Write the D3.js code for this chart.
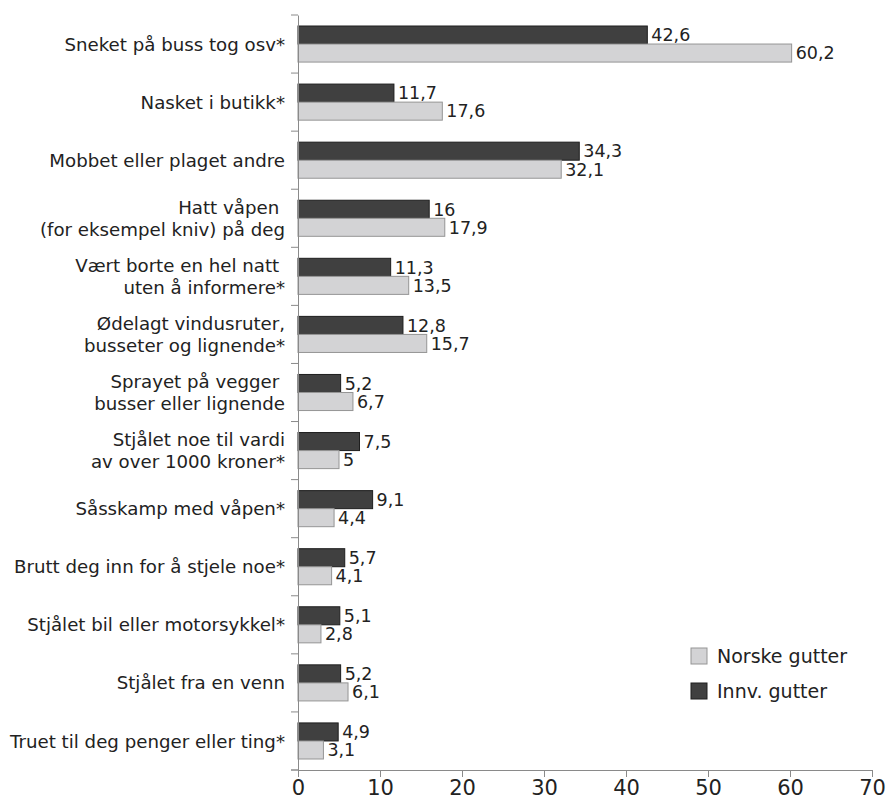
<!DOCTYPE html>
<html>
<head>
<meta charset="utf-8">
<script src="https://cdn.jsdelivr.net/npm/d3@7"></script>
<style>
  body { margin: 0; background: #fff; }
  text { font-family: "DejaVu Sans", sans-serif; fill: #222; }
</style>
</head>
<body>
<div id="chart"></div>
<script>
// DATA
var categories = [
  ["Sneket på buss tog osv*"],
  ["Nasket i butikk*"],
  ["Mobbet eller plaget andre"],
  ["Hatt våpen ", "(for eksempel kniv) på deg"],
  ["Vært borte en hel natt ", "uten å informere*"],
  ["Ødelagt vindusruter,", "busseter og lignende*"],
  ["Sprayet på vegger ", "busser eller lignende"],
  ["Stjålet noe til vardi", "av over 1000 kroner*"],
  ["Såsskamp med våpen*"],
  ["Brutt deg inn for å stjele noe*"],
  ["Stjålet bil eller motorsykkel*"],
  ["Stjålet fra en venn"],
  ["Truet til deg penger eller ting*"]
];
var innvGutter = [42.6, 11.7, 34.3, 16, 11.3, 12.8, 5.2, 7.5, 9.1, 5.7, 5.1, 5.2, 4.9];
var norskeGutter = [60.2, 17.6, 32.1, 17.9, 13.5, 15.7, 6.7, 5, 4.4, 4.1, 2.8, 6.1, 3.1];
var xTicks = [0, 10, 20, 30, 40, 50, 60, 70];
var seriesNames = ["Norske gutter", "Innv. gutter"];

// SET UP CHART
var svgWidth = 890, svgHeight = 803;
var margin = { top: 15, right: 18, bottom: 33, left: 298 };
var chartWidth = svgWidth - margin.left - margin.right;
var chartHeight = svgHeight - margin.top - margin.bottom;

var svg = d3.select("#chart").append("svg")
  .attr("width", svgWidth)
  .attr("height", svgHeight);

var chartGroup = svg.append("g")
  .attr("transform", `translate(${margin.left}, ${margin.top})`);

var xScale = d3.scaleLinear().domain([0, 70]).range([0, 574]);
var yScale = d3.scaleBand()
  .domain(d3.range(categories.length))
  .range([0, chartHeight]);
var inner = d3.scaleBand()
  .domain(["innv", "norske"])
  .range([11, yScale.bandwidth() - 11]);

var fmt = d => String(d).replace(".", ",");

// bars - dark on top, light below
var rows = categories.map((c, i) => ({ i: i, innv: innvGutter[i], norske: norskeGutter[i] }));

var styles = {
  innv: { fill: "#404040", stroke: "#1e1e1e" },
  norske: { fill: "#d3d3d5", stroke: "#959595" }
};

["innv", "norske"].forEach(function(key) {
  chartGroup.selectAll("rect." + key)
    .data(rows)
    .enter()
    .append("rect")
    .attr("class", key)
    .attr("x", 0)
    .attr("y", d => yScale(d.i) + inner(key))
    .attr("width", d => xScale(d[key]))
    .attr("height", inner.bandwidth())
    .attr("fill", styles[key].fill)
    .attr("stroke", styles[key].stroke)
    .attr("stroke-width", 1);

  chartGroup.selectAll("text.v" + key)
    .data(rows)
    .enter()
    .append("text")
    .attr("class", "v" + key)
    .attr("x", d => xScale(d[key]) + 4)
    .attr("y", d => yScale(d.i) + inner(key) + inner.bandwidth() / 2)
    .attr("dy", "0.36em")
    .attr("font-size", 17.5)
    .text(d => fmt(d[key]));
});

// Y AXIS
var leftAxis = d3.axisLeft(yScale).tickValues([]).tickSizeOuter(0);
var yAxis = chartGroup.append("g").call(leftAxis);
yAxis.select(".domain").attr("stroke", "#8a8a8a");
// category separator ticks
chartGroup.selectAll("line.sep")
  .data(d3.range(categories.length + 1))
  .enter()
  .append("line")
  .attr("x1", -7).attr("x2", 0)
  .attr("y1", d => d === categories.length ? chartHeight : yScale(d))
  .attr("y2", d => d === categories.length ? chartHeight : yScale(d))
  .attr("stroke", "#8a8a8a");

// category labels
var labels = chartGroup.selectAll("text.cat")
  .data(categories)
  .enter()
  .append("text")
  .attr("class", "cat")
  .attr("text-anchor", "end")
  .attr("font-size", 18.2)
  .attr("transform", (d, i) => `translate(-13, ${yScale(i) + yScale.bandwidth() / 2})`);

labels.selectAll("tspan")
  .data(d => d.map((t, j) => ({ t: t, j: j, n: d.length })))
  .enter()
  .append("tspan")
  .attr("x", 0)
  .attr("y", d => (d.j - (d.n - 1) / 2) * 22)
  .attr("dy", "0.36em")
  .style("white-space", "pre")
  .text(d => d.t);

// X AXIS
var bottomAxis = d3.axisBottom(xScale).tickValues(xTicks).tickSize(7).tickSizeOuter(0).tickFormat(d => d);
var xAxis = chartGroup.append("g")
  .attr("transform", `translate(0, ${chartHeight})`)
  .call(bottomAxis);
xAxis.select(".domain").attr("stroke", "#8a8a8a");
xAxis.selectAll("line").attr("stroke", "#8a8a8a");
xAxis.selectAll("text")
  .attr("font-size", 21)
  .attr("font-family", "DejaVu Sans, sans-serif")
  .attr("fill", "#222")
  .attr("dy", "0.72em");
chartGroup.append("line")
  .attr("x1", -7).attr("x2", 0)
  .attr("y1", chartHeight).attr("y2", chartHeight)
  .attr("stroke", "#8a8a8a");

// LEGEND
var legend = svg.append("g").attr("transform", "translate(691, 648)");
var legendItems = [
  { name: seriesNames[0], key: "norske" },
  { name: seriesNames[1], key: "innv" }
];
legendItems.forEach(function(item, k) {
  var g = legend.append("g").attr("transform", `translate(0, ${k * 35})`);
  g.append("rect")
    .attr("width", 16).attr("height", 16)
    .attr("fill", styles[item.key].fill)
    .attr("stroke", styles[item.key].stroke);
  g.append("text")
    .attr("x", 26).attr("y", 8)
    .attr("dy", "0.36em")
    .attr("font-size", 19)
    .text(item.name);
});
</script>
</body>
</html>
